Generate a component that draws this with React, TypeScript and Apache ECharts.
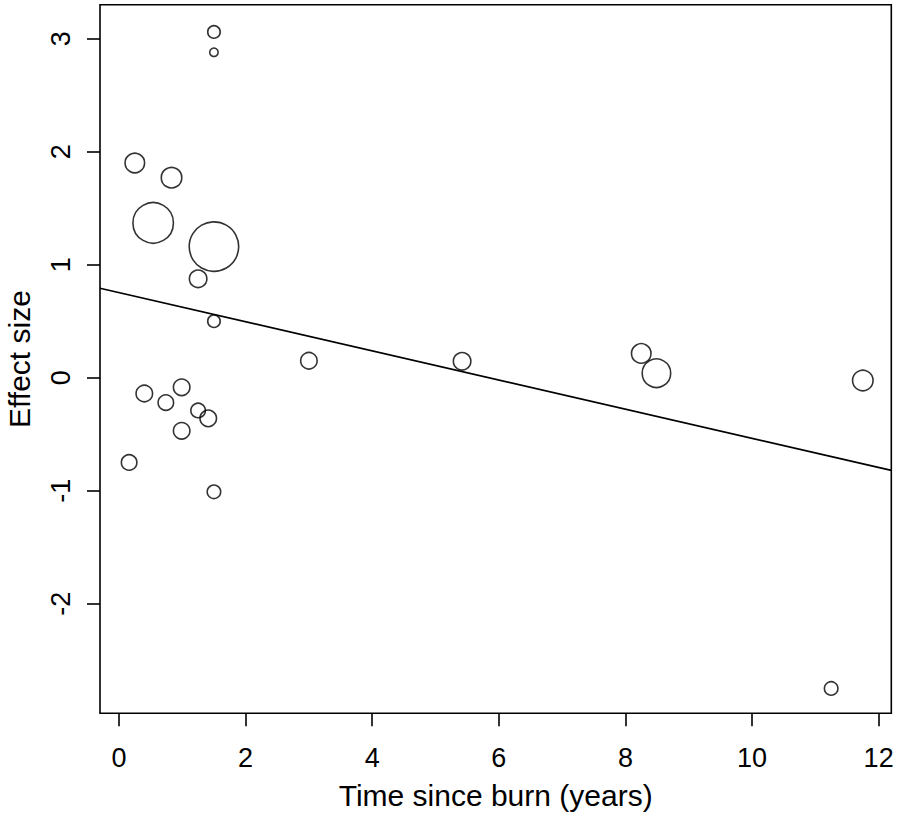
import React, { useEffect, useRef } from "react";
import * as echarts from "echarts";

// Study data: time since burn (years), effect size, relative study weight
const timeSinceBurn = [1.5, 1.5, 0.25, 0.83, 0.54, 1.5, 1.25, 1.5, 0.4, 0.99, 0.74, 1.25, 1.41, 0.99, 0.16, 1.5, 3.0, 5.42, 8.25, 8.49, 11.75, 11.25];
const effectSize = [3.06, 2.88, 1.9, 1.77, 1.37, 1.16, 0.875, 0.5, -0.14, -0.085, -0.22, -0.29, -0.36, -0.47, -0.75, -1.01, 0.15, 0.145, 0.215, 0.04, -0.025, -2.75];
const studyWeight = [1.4, 1.0, 2.1, 2.2, 4.2, 5.1, 1.9, 1.4, 1.8, 1.8, 1.7, 1.6, 1.8, 1.8, 1.7, 1.5, 1.8, 1.9, 2.1, 3.0, 2.2, 1.5];

// Meta-regression line
const regIntercept = 0.753;
const regSlope = -0.129;

// Axes
const xTicks = [0, 2, 4, 6, 8, 10, 12];
const yTicks = [-2, -1, 0, 1, 2, 3];
const xRange = [-0.3, 12.2];
const yRange = [-2.97, 3.3];

const xTitle = "Time since burn (years)";
const yTitle = "Effect size";

export default function App() {
  const ref = useRef<HTMLDivElement>(null);

  useEffect(() => {
    if (!ref.current) return;
    const chart = echarts.init(ref.current, null, { renderer: "svg" });

    const points = timeSinceBurn.map((x, i) => [x, effectSize[i], studyWeight[i]]);
    const lineData = xRange.map((x) => [x, regIntercept + regSlope * x]);

    const font = "'Liberation Sans', Arial, Helvetica, sans-serif";

    chart.setOption({
      animation: false,
      backgroundColor: "#ffffff",
      grid: {
        left: 100,
        right: 6.7,
        top: 4.8,
        bottom: 107.7,
        containLabel: false,
        outerBoundsMode: "none",
        show: true,
        borderColor: "#000",
        borderWidth: 1.6,
        backgroundColor: "transparent",
      },
      xAxis: {
        type: "value",
        position: "bottom",
        min: xRange[0],
        max: xRange[1],
        name: xTitle,
        nameLocation: "middle",
        nameGap: 67,
        nameTextStyle: { fontFamily: font, fontSize: 30, color: "#000" },
        axisLine: { show: false, onZero: false },
        splitLine: { show: false },
        axisTick: {
          show: true,
          inside: false,
          length: 13,
          customValues: xTicks,
          lineStyle: { color: "#000", width: 1.6 },
        },
        axisLabel: {
          show: true,
          customValues: xTicks,
          margin: 31,
          fontFamily: font,
          fontSize: 27,
          color: "#000",
        },
      },
      yAxis: {
        type: "value",
        position: "left",
        min: yRange[0],
        max: yRange[1],
        name: yTitle,
        nameLocation: "middle",
        nameGap: 66,
        nameTextStyle: { fontFamily: font, fontSize: 30, color: "#000" },
        axisLine: { show: false, onZero: false },
        splitLine: { show: false },
        axisTick: {
          show: true,
          inside: false,
          length: 13,
          customValues: yTicks,
          lineStyle: { color: "#000", width: 1.6 },
        },
        axisLabel: {
          show: true,
          customValues: yTicks,
          rotate: 90,
          margin: 26,
          fontFamily: font,
          fontSize: 27,
          color: "#000",
        },
      },
      series: [
        {
          type: "line",
          data: lineData,
          showSymbol: false,
          symbol: "none",
          lineStyle: { color: "#000", width: 1.7 },
          silent: true,
          z: 2,
        },
        {
          type: "scatter",
          data: points,
          symbol: "circle",
          symbolSize: (v: number[]) => v[2] * 10 - 1.5,
          itemStyle: { color: "rgba(0,0,0,0)", borderColor: "#000", borderWidth: 1.6 },
          z: 3,
        },
      ],
    });

    return () => chart.dispose();
  }, []);

  return (
    <div
      ref={ref}
      style={{ position: "fixed", left: 0, top: 0, width: 898, height: 821, background: "#fff" }}
    />
  );
}
